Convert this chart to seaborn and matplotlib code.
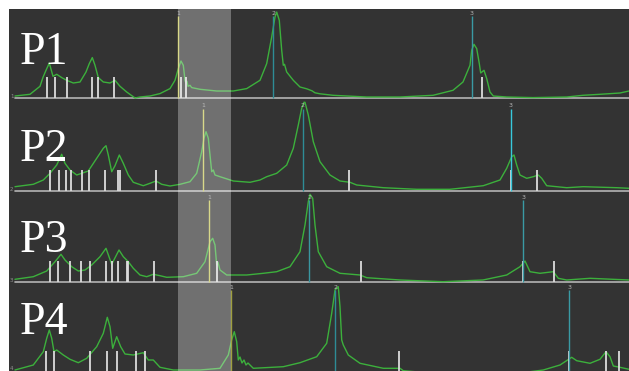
import numpy as np
import pandas as pd
import seaborn as sns
import matplotlib.pyplot as plt

# spectra, x in screen units, intensity = height above baseline
p1_x = [15, 30, 40, 43, 46, 49.3, 53, 56.7, 61.7, 66.7, 73.3, 80, 86, 89.3, 92.3, 95, 98.3, 103.3, 110, 115,
        120, 126.7, 135, 140, 150, 160, 170, 175, 178.3, 181, 183.3, 185, 186, 187, 188, 190, 191.7, 200, 216.7, 233.3,
        246.7, 260, 266.7, 271.7, 275, 276.7, 279.3, 281.7, 283.3, 284.5, 286.7, 293.3, 300, 306.7, 312, 315, 320, 333, 366.7, 400,
        433, 453, 463, 470, 471.7, 474, 476.7, 479.3, 480.7, 484, 486.7, 490, 493.3, 506.7, 533, 566.7, 583, 600, 620, 629]
p1_y = [2.3, 4, 12, 21, 28, 35.3, 22, 24, 20.7, 18, 15.3, 16.3, 26.3, 34.7, 40.7, 33, 20.7, 16.3, 15.3, 18,
        12, 6.3, 0.3, 1.3, 2.3, 4.7, 9.7, 18, 29.7, 37.3, 33, 18, 15, 17, 12, 13, 10.7, 9, 7.3, 7.3,
        9.7, 18, 34.7, 61.3, 81.3, 86.3, 78, 48, 33, 34, 26.3, 18, 11.3, 9.5, 7.5, 5.5, 4.5, 3, 1.3, 1.3,
        3, 8, 16.3, 33, 48, 54, 49.7, 34.7, 25.3, 28, 19.7, 6.3, 2.3, 1.3, 0.7, 1.3, 3, 4, 5.3, 7.3]

p2_x = [15, 33.3, 43.3, 50, 56.7, 61.7, 65, 70, 76.7, 81.7, 88.3, 96.7, 103.3, 106, 108.3, 111.7, 115, 119.3, 123.3, 128.3,
        133.3, 143.3, 150, 156, 161.7, 170, 180, 190, 196.7, 201.7, 204, 206, 208.3, 210, 211.7, 213.3, 215, 220, 233.3, 250,
        260, 266.7, 276.7, 286.7, 293.3, 298.3, 301.7, 304, 305, 308.3, 313.3, 320, 330, 340, 350, 356.7, 383.3, 416.7, 450, 483.3,
        500, 506.7, 511.7, 514, 516.7, 520, 526.7, 533.3, 538.3, 541.7, 546.7, 566.7, 583.3, 616.7, 629]
p2_y = [4, 6.4, 10.7, 17.4, 25.7, 36.4, 27.4, 20.7, 15.7, 17.4, 19.7, 32.4, 42.4, 45, 35.7, 19, 25, 35.7, 27.4, 15.7,
        8.4, 5, 7.4, 9.7, 6.4, 4.7, 6.4, 9, 17.4, 39, 52.4, 59, 52.4, 35.7, 19, 20.7, 15.7, 14, 9.7, 8.4,
        10.7, 14, 17.4, 25.7, 42.4, 65.7, 82.4, 88.4, 88.4, 75.7, 49, 29, 15.7, 9.7, 8.4, 5.7, 3, 1.4, 1.4, 5,
        10.7, 22.4, 34, 35.7, 25.7, 15.7, 12.4, 14, 15.7, 12.4, 5, 3, 4, 3, 2.4]

p3_x = [15, 33.3, 46.7, 55, 61, 65, 71.7, 78.3, 85, 91.7, 100, 106, 111.7, 119, 123.3, 128.3, 133.3, 140, 146.7, 153.3,
        160, 166.7, 183.3, 196.7, 205, 210, 212.7, 215, 216.7, 218, 220, 226.7, 246.7, 263.3, 276.7, 290, 300, 305, 308.3, 310,
        312.7, 315, 318.3, 326.7, 340, 360, 366.7, 400, 443, 483, 506.7, 520, 525, 530, 540, 553.3, 558.3, 566.7, 590, 629]
p3_y = [3, 5.6, 11.3, 20.6, 28, 22.3, 15.6, 11.3, 12.3, 17.3, 25.6, 34, 18, 32.3, 25.6, 20.6, 14, 7.3, 5.6, 8,
        6.6, 5, 5.6, 9, 20.6, 40.6, 44, 37.3, 17.3, 20, 12.3, 7.3, 7.3, 9, 10.6, 15.6, 30.6, 57.3, 80.6, 88,
        84, 57.3, 30.6, 15.6, 9, 7.3, 4.6, 2.3, 0.6, 2.3, 7.3, 15.6, 21.3, 10.6, 9, 10.6, 4, 2.3, 4, 2.3]

p4_x = [15, 33.3, 43.3, 46.7, 49.3, 51.7, 54, 56.7, 63.3, 70, 78.3, 86.7, 96.7, 103.3, 107.3, 110, 112.7, 116.7, 120.7, 125,
        133.3, 143.3, 148.3, 153.3, 160, 173.3, 200, 220, 228.3, 231.7, 234.3, 236.7, 238.3, 240, 242, 244, 246, 248, 253.3, 283.3,
        300, 316.7, 326.7, 331.7, 335, 338.3, 340, 341.7, 343.3, 348.3, 360, 383.3, 400, 403.3, 430, 470, 520, 543.3, 560, 571.7,
        576.7, 590, 600, 606, 610, 613.3, 620, 629]
p4_y = [2, 7, 20.3, 33.7, 42, 33.7, 20.3, 22, 17, 12.7, 9.3, 13.7, 25.3, 38.7, 54.7, 45.3, 23.7, 35.3, 25.3, 18,
        17, 19.3, 12, 12, 4.7, 2, 2, 3.7, 17, 32, 40.3, 30.3, 12, 15, 9, 12, 7, 9, 3.7, 5.3,
        9.3, 15.3, 28.7, 58.7, 82, 85.3, 65.3, 32, 27, 17, 8.7, 3.7, 3.7, 1.3, -1, -2, -1, 2, 7, 14.7,
        11.3, 8.7, 12.7, 20.3, 15.3, 6, 4.7, 2.7]

# stick positions
p1_sticks = [46.7, 55, 66.7, 91.7, 98.3, 114, 181, 185.7, 481.7]
p2_sticks = [50, 59.3, 66, 70.7, 81.7, 89.3, 105, 118.3, 120, 156, 349, 510.7, 537.3]
p3_sticks = [50, 58.3, 70, 80.7, 90, 106, 111.7, 117.7, 126.7, 128.3, 154, 216.7, 360.7, 523.3, 554]
p4_sticks = [45.7, 54.3, 90, 107.3, 116.7, 135.7, 145, 399, 569.3, 606, 619.3]
stick_height = 21

# numbered markers 1..3
marker_labels = ['1', '2', '3']
p1_markers = [178, 273.3, 471.7]
p2_markers = [203.3, 302.7, 510.7]
p3_markers = [209.3, 309.3, 523.3]
p4_markers = [231, 335, 569.3]
marker_height = 82

panel_names = ['P1', 'P2', 'P3', 'P4']
side_labels = ['1', '2', '3', '4']
band = (178, 231)

panels = [
    (p1_x, p1_y, p1_sticks, p1_markers, ['#c8c858', '#2e8c96', '#3a9aa4']),
    (p2_x, p2_y, p2_sticks, p2_markers, ['#c8c858', '#2e8c96', '#38c8dc']),
    (p3_x, p3_y, p3_sticks, p3_markers, ['#c8c858', '#3a96a0', '#3a9aa4']),
    (p4_x, p4_y, p4_sticks, p4_markers, ['#a0a040', '#2e8c96', '#3a9aa4']),
]

sns.set_theme(style='dark')
plt.rcParams['font.family'] = ['DejaVu Sans']

W, H = 629, 371
fig = plt.figure(figsize=(W / 100, H / 100), dpi=100, facecolor='white')

tops = [9, 99.3, 191.7, 283.3]
bases = [98.3, 190.7, 282.3, 372]
text_base = [63.5, 160.5, 252, 333.5]

for i, (xs, ys, sticks, marks, mcols) in enumerate(panels):
    bot = bases[i] + 1
    h = bot - tops[i]
    ax = fig.add_axes([9 / W, 1 - bot / H, 620 / W, h / H])
    ax.set_facecolor('#333333')
    ax.set_xlim(9, 629)
    ax.set_ylim(-1, h - 1)
    for s in ax.spines.values():
        s.set_visible(False)
    ax.set_xticks([])
    ax.set_yticks([])
    ax.grid(False)

    df = pd.DataFrame({'x': xs, 'y': ys})
    sns.lineplot(data=df, x='x', y='y', ax=ax, color='#3cb03c', lw=1.0,
                 estimator=None, sort=False, zorder=3)
    ax.set_xlabel('')
    ax.set_ylabel('')

    ax.vlines(sticks, 0, stick_height, color='#dcdcdc', lw=1.3, zorder=4)
    for lab, mx, mc in zip(marker_labels, marks, mcols):
        ax.vlines(mx, 0, marker_height, color=mc, lw=1.0, zorder=4)
        ax.text(mx, marker_height + 3, lab, color='#b8b8b8', fontsize=4.5,
                ha='center', va='center', zorder=6)

    ax.axhline(0, xmin=6 / 620, color='#b4b4b4', lw=1.2, zorder=2)
    ax.text(10, 4 if i == 3 else 1.5, side_labels[i], color='#909090', fontsize=4,
            ha='left', va='center')
    ax.axvspan(*band, color='white', alpha=0.3, lw=0, zorder=5)

    fig.text(20 / W, 1 - text_base[i] / H, panel_names[i], color='white',
             fontsize=33, family='Liberation Serif', va='baseline', ha='left')

fig.savefig('out.png', dpi=100, facecolor='white')
